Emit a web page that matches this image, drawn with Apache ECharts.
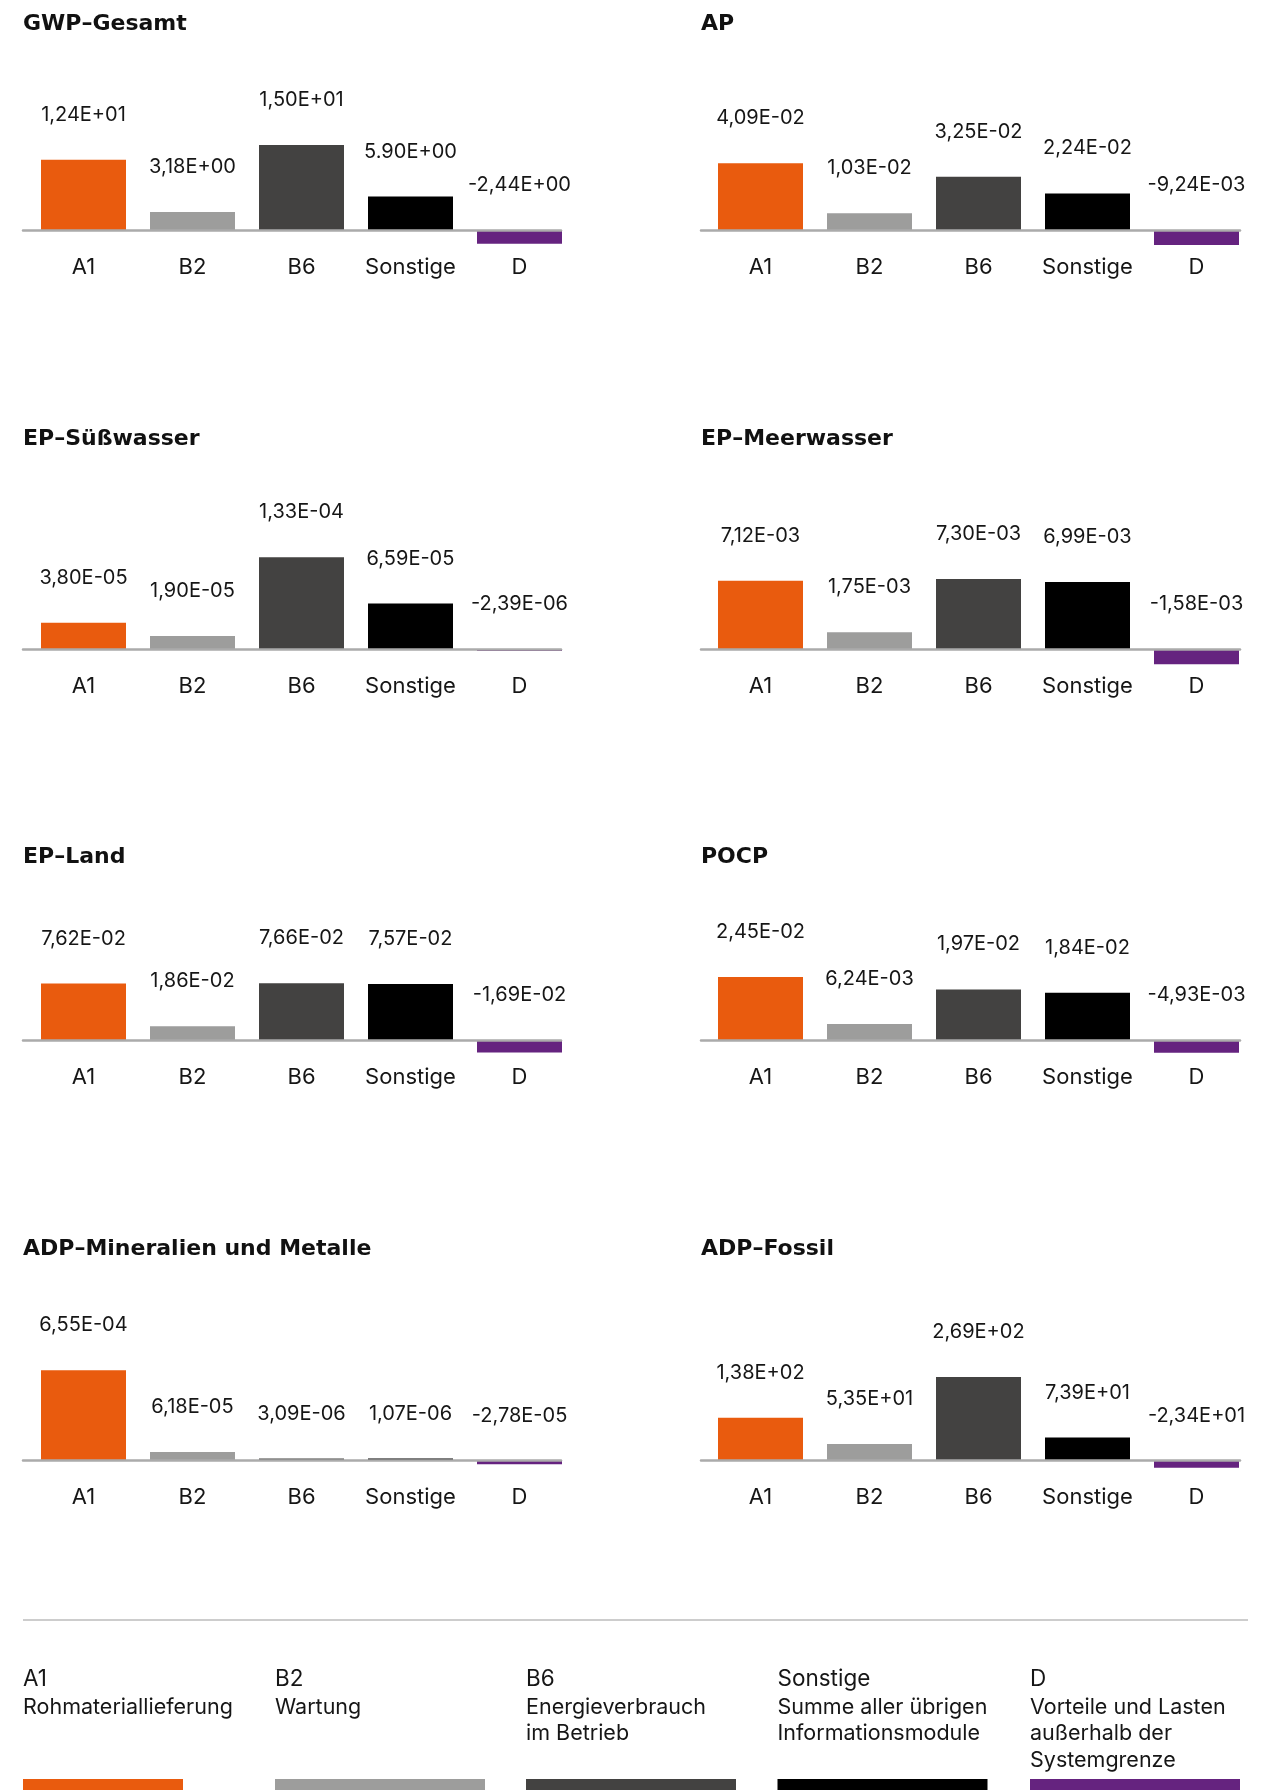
<!DOCTYPE html>
<html><head><meta charset="utf-8">
<script src="https://cdn.jsdelivr.net/npm/echarts/dist/echarts.min.js"></script>
<style>html,body{margin:0;padding:0;background:#fff}#c{width:1281px;height:1790px}</style>
</head><body><div id="c"></div>
<script>
// ---------- DATA ----------
const categories = ['A1', 'B2', 'B6', 'Sonstige', 'D'];
const chartTitles = ['GWP–Gesamt', 'AP', 'EP–Süßwasser', 'EP–Meerwasser', 'EP–Land', 'POCP', 'ADP–Mineralien und Metalle', 'ADP–Fossil'];
const gwpGesamt     = [1.24e1, 3.18e0, 1.50e1, 5.90e0, -2.44e0];
const ap            = [4.09e-2, 1.03e-2, 3.25e-2, 2.24e-2, -9.24e-3];
const epSuesswasser = [3.80e-5, 1.90e-5, 1.33e-4, 6.59e-5, -2.39e-6];
const epMeerwasser  = [7.12e-3, 1.75e-3, 7.30e-3, 6.99e-3, -1.58e-3];
const epLand        = [7.62e-2, 1.86e-2, 7.66e-2, 7.57e-2, -1.69e-2];
const pocp          = [2.45e-2, 6.24e-3, 1.97e-2, 1.84e-2, -4.93e-3];
const adpMineralien = [6.55e-4, 6.18e-5, 3.09e-6, 1.07e-6, -2.78e-5];
const adpFossil     = [1.38e2, 5.35e1, 2.69e2, 7.39e1, -2.34e1];
const allSeries = [gwpGesamt, ap, epSuesswasser, epMeerwasser, epLand, pocp, adpMineralien, adpFossil];
// value-axis upper bound of each panel (scale of each small chart)
const axisMaxima = [21.2, 0.0734, 1.74e-4, 0.0125, 0.162, 0.0467, 8.7e-4, 387];
// label printed with a point instead of a comma in the original
const labelTextOverrides = { 0: { 3: '5.90E+00' } };
const legendTexts = [
  ['Rohmateriallieferung'],
  ['Wartung'],
  ['Energieverbrauch', 'im Betrieb'],
  ['Summe aller übrigen', 'Informationsmodule'],
  ['Vorteile und Lasten', 'außerhalb der', 'Systemgrenze']
];

// ---------- STYLE / LAYOUT ----------
const colors = ['#E95B0E', '#9D9D9C', '#434241', '#000000', '#65237F'];
const FONT = 'Inter, "Open Sans", Roboto, sans-serif';
const TITLE_FONT = '"DejaVu Sans", Inter, sans-serif';
const TXT = '#161616';
const barGridLeft = [29, 706];
const baseLineLeft = [23, 701];
const baseLineWidth = [538, 539];
const rowBaseline = [230, 649, 1040, 1460.5];
const titleTop = [13.5, 428.5, 846.5, 1238.5];
const ABOVE = 120, BELOW = 20;

function fmt(v) {
  if (v === 0) return '0,00E+00';
  const a = Math.abs(v);
  let e = Math.floor(Math.log10(a));
  let ms = (a / Math.pow(10, e)).toFixed(2);
  if (parseFloat(ms) >= 10) { e += 1; ms = (a / Math.pow(10, e)).toFixed(2); }
  const es = (e < 0 ? '-' : '+') + String(Math.abs(e)).padStart(2, '0');
  return (v < 0 ? '-' : '') + ms.replace('.', ',') + 'E' + es;
}

const grid = [], xAxis = [], yAxis = [], series = [], title = [];
allSeries.forEach((vals, k) => {
  const col = k % 2, row = Math.floor(k / 2);
  const base = rowBaseline[row];
  const max = axisMaxima[k], min = -max * BELOW / ABOVE;
  const gBar = grid.length;
  grid.push({ left: barGridLeft[col], top: base - ABOVE, width: 545, height: ABOVE + BELOW });
  const gLine = grid.length;
  grid.push({ left: baseLineLeft[col], top: base - ABOVE, width: baseLineWidth[col], height: ABOVE + BELOW });

  xAxis.push({
    type: 'category', gridIndex: gBar, data: categories, boundaryGap: true,
    axisLine: { show: false },
    axisTick: { show: false },
    axisLabel: { margin: 6, fontSize: 22, color: TXT, fontFamily: FONT, interval: 0 }
  });
  yAxis.push({ type: 'value', gridIndex: gBar, min: min, max: max, show: false, splitLine: { show: false } });

  xAxis.push({
    type: 'value', gridIndex: gLine, min: 0, max: 1, z: 10,
    axisLine: { show: true, onZero: true, lineStyle: { color: '#ABABAB', width: 2.5 } },
    axisTick: { show: false }, axisLabel: { show: false }, splitLine: { show: false }
  });
  yAxis.push({ type: 'value', gridIndex: gLine, min: min, max: max, show: false, splitLine: { show: false } });

  const ov = labelTextOverrides[k] || {};
  series.push({
    type: 'bar', xAxisIndex: gBar, yAxisIndex: gBar, barWidth: 85, barMinHeight: 2,
    data: vals.map((v, i) => ({ value: v, itemStyle: { color: colors[i] } })),
    label: {
      show: true, position: 'top', distance: 35, fontSize: 20, color: TXT, fontFamily: FONT,
      formatter: p => (ov[p.dataIndex] !== undefined ? ov[p.dataIndex] : fmt(p.value))
    },
    silent: true, animation: false
  });

  title.push({
    text: chartTitles[k], left: baseLineLeft[col], top: titleTop[row], padding: 0,
    textStyle: { fontSize: 22, fontWeight: 'bold', color: '#111', fontFamily: TITLE_FONT }
  });
});

// legend block
const legendX = [23, 275, 526, 777.5, 1030];
const swatchW = [160, 210, 210, 210, 210];
const graphic = [{
  type: 'line', shape: { x1: 23, y1: 1620, x2: 1248, y2: 1620 },
  style: { stroke: '#BDBDBD', lineWidth: 1.5 }
}];
categories.forEach((c, i) => {
  graphic.push({ type: 'text', x: legendX[i], y: 1679,
    style: { text: c, fontSize: 22.5, fill: TXT, fontFamily: FONT, verticalAlign: 'middle', align: 'left' } });
  legendTexts[i].forEach((t, j) => {
    graphic.push({ type: 'text', x: legendX[i], y: 1707.5 + 26.5 * j,
      style: { text: t, fontSize: 21.5, fill: TXT, fontFamily: FONT, verticalAlign: 'middle', align: 'left' } });
  });
  graphic.push({ type: 'rect', shape: { x: legendX[i], y: 1779, width: swatchW[i], height: 12 },
    style: { fill: colors[i] } });
});

const chart = echarts.init(document.getElementById('c'), null, { renderer: 'canvas' });
chart.setOption({
  animation: false, backgroundColor: '#fff',
  title, grid, xAxis, yAxis, series, graphic
});
</script></body></html>
